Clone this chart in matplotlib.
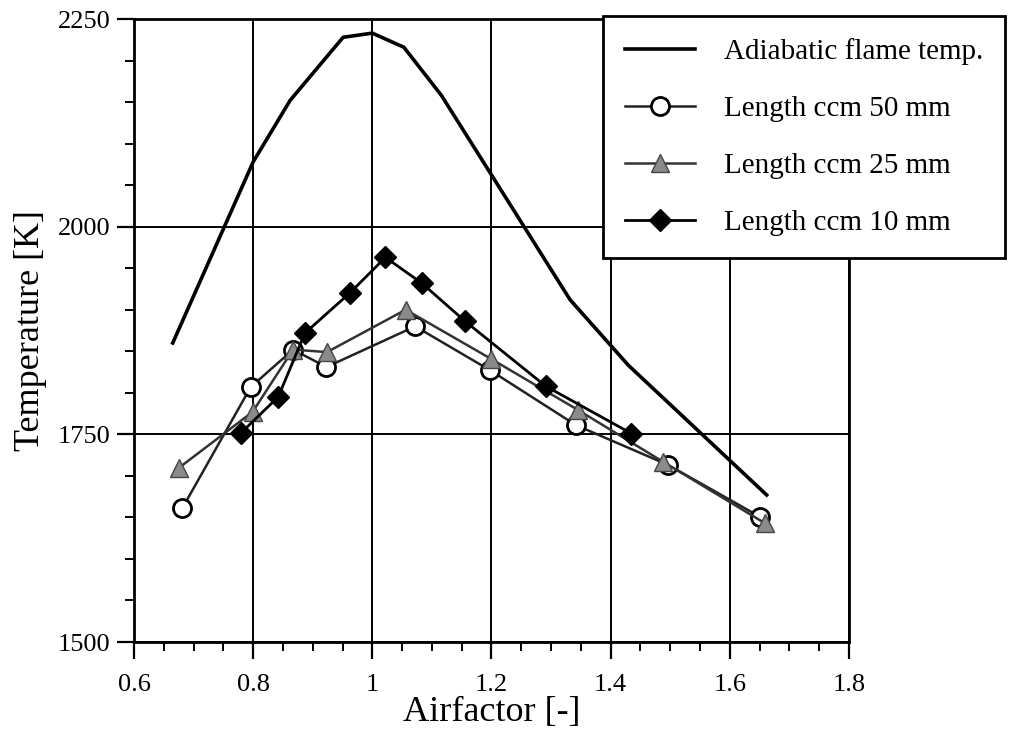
import matplotlib.pyplot as plt
from matplotlib.ticker import MultipleLocator

# adiabatic flame temperature
x_adiab = [0.665, 0.80, 0.862, 0.951, 1.00, 1.053, 1.116, 1.332, 1.43, 1.662]
t_adiab = [1860, 2078, 2152, 2228, 2233, 2216, 2158, 1912, 1833, 1677]

# length ccm 50 mm
x_50 = [0.681, 0.796, 0.867, 0.923, 1.072, 1.198, 1.342, 1.497, 1.650]
t_50 = [1661, 1807, 1852, 1831, 1880, 1827, 1761, 1713, 1651]

# length ccm 25 mm
x_25 = [0.676, 0.799, 0.867, 0.924, 1.056, 1.199, 1.346, 1.488, 1.659]
t_25 = [1710, 1777, 1852, 1849, 1900, 1841, 1779, 1717, 1643]

# length ccm 10 mm
x_10 = [0.780, 0.842, 0.887, 0.962, 1.022, 1.083, 1.156, 1.291, 1.435]
t_10 = [1752, 1795, 1872, 1920, 1963, 1932, 1886, 1808, 1751]

plt.rcParams['font.family'] = ['Liberation Serif', 'DejaVu Serif']

fig = plt.figure(figsize=(10.13, 7.37), dpi=100)
ax = fig.add_axes([0.1323, 0.1289, 0.838 - 0.1323, 0.9742 - 0.1289])

ax.plot(x_adiab, t_adiab, color='black', lw=2.6, label='Adiabatic flame temp.', zorder=3)
ax.plot(x_50, t_50, color='#222222', lw=1.8, marker='o', ms=13, mfc='white',
        mec='black', mew=2, label='Length ccm 50 mm', zorder=4)
ax.plot(x_25, t_25, color='#333333', lw=1.8, marker='^', ms=13, mfc='#8a8a8a',
        mec='#444444', mew=1, label='Length ccm 25 mm', zorder=4)
ax.plot(x_10, t_10, color='black', lw=2, marker='D', ms=11, mfc='black',
        mec='black', label='Length ccm 10 mm', zorder=5)

ax.set_xlim(0.6, 1.8)
ax.set_ylim(1500, 2250)
ax.xaxis.set_minor_locator(MultipleLocator(0.05))
ax.yaxis.set_major_locator(MultipleLocator(250))
ax.yaxis.set_minor_locator(MultipleLocator(50))
ax.set_xticks([0.6, 0.8, 1.0, 1.2, 1.4, 1.6, 1.8])
ax.set_xticklabels(['0.6', '0.8', '1', '1.2', '1.4', '1.6', '1.8'])

ax.grid(True, which='major', color='black', lw=1.4)
ax.set_axisbelow(True)
for s in ax.spines.values():
    s.set_linewidth(2)
    s.set_color('black')

ax.tick_params(which='major', direction='out', length=12, width=1.6, labelsize=19)
ax.tick_params(axis='x', which='major', pad=11)
ax.tick_params(axis='y', which='major', pad=5)
ax.tick_params(which='minor', direction='out', length=6.5, width=1.4)

ax.set_xlabel('Airfactor [-]', fontsize=26, labelpad=0)
ax.set_ylabel('Temperature [K]', fontsize=26, labelpad=8)

leg = ax.legend(loc='upper left', bbox_to_anchor=(0.595, 0.978), bbox_transform=fig.transFigure,
                fontsize=21, frameon=True, fancybox=False, edgecolor='black', framealpha=1,
                handlelength=2.4, handletextpad=1.0, labelspacing=1.05,
                borderpad=0.75, borderaxespad=0)
leg.get_frame().set_linewidth(2)
leg.set_zorder(10)

fig.savefig('out.png', dpi=100)
